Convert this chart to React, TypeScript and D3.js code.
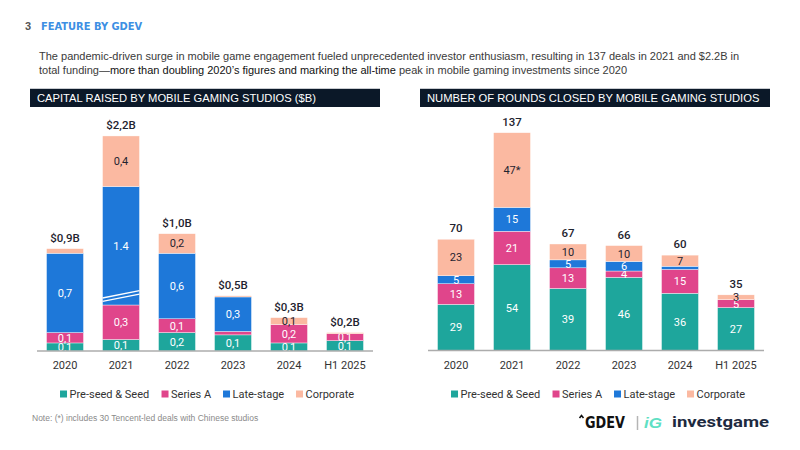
import React from 'react';
import * as d3 from 'd3';

// categories
const years = ['2020', '2021', '2022', '2023', '2024', 'H1 2025'];
const seriesNames = ['Pre-seed & Seed', 'Series A', 'Late-stage', 'Corporate'];
const seriesColors = ['#1ea69c', '#e0458b', '#1e78d9', '#fbb9a1'];

// capital raised, $B
const capitalSeed = [0.07, 0.10, 0.16, 0.14, 0.07, 0.09];
const capitalSeriesA = [0.09, 0.30, 0.12, 0.03, 0.16, 0.06];
const capitalLate = [0.69, 1.40, 0.57, 0.30, 0.00, 0.00];
const capitalCorporate = [0.04, 0.44, 0.17, 0.01, 0.06, 0.01];
// part of the bar hidden behind the axis break
const capitalCut = [0, 0.37, 0, 0, 0, 0];

// number of rounds
const roundsSeed = [29, 54, 39, 46, 36, 27];
const roundsSeriesA = [13, 21, 13, 4, 15, 5];
const roundsLate = [5, 15, 5, 6, 2, 0];
const roundsCorporate = [23, 47, 10, 10, 7, 3];
const roundsCorporateMark = ['', '*', '', '', '', ''];

const FONT = 'Roboto, sans-serif';
const ARIAL = '"Liberation Sans", Arial, sans-serif';
const INK = '#1f2430';

type PanelProps = {
  title: string;
  header: [number, number];
  axis: [number, number];
  baseline: number;
  yMax: number;
  yTop: number;
  values: number[][];
  cut?: number[];
  fmt: (v: number, s: number, i: number) => string;
  total: (v: number) => string;
  minLabel: number;
};

function Panel({ title, header, axis, baseline, yMax, yTop, values, cut, fmt, total, minLabel }: PanelProps) {
  const x = d3.scaleBand<string>().domain(years).range(axis).paddingInner(0.34).paddingOuter(0.17);
  const y = d3.scaleLinear().domain([0, yMax]).range([baseline, yTop]);

  const rows = years.map((yr, i) => {
    const r: Record<string, number> = {};
    seriesNames.forEach((s, si) => {
      r[s] = values[si][i] - (si === 2 && cut ? cut[i] : 0);
    });
    return r;
  });
  const stacked = d3.stack<Record<string, number>>().keys(seriesNames)(rows);
  const bw = x.bandwidth();

  return (
    <g>
      <line x1={header[0]} x2={header[1]} y1={88.5} y2={88.5} stroke="#c9ccd1" />
      <rect x={header[0]} y={89} width={header[1] - header[0]} height={18} fill="#0b1828" />
      <text x={header[0] + 7} y={102} fill="#fff" fontFamily={ARIAL} fontSize={11.2}>{title}</text>

      {stacked.map((layer, si) => (
        <g key={si}>
          {layer.map((d, i) => {
            const y0 = y(d[0]);
            const y1 = y(d[1]);
            const h = y0 - y1;
            if (h <= 0) return null;
            const v = values[si][i];
            const bx = x(years[i]) as number;
            return (
              <g key={i}>
                <rect x={bx} y={y1} width={bw} height={h} fill={seriesColors[si]} stroke="#fff" strokeWidth={0.4} />
                {v >= minLabel && (
                  <text x={bx + bw / 2} y={(y0 + y1) / 2 + 4} textAnchor="middle" fontFamily={FONT} fontSize={11}
                    fill={si === 3 ? INK : '#fff'}>{fmt(v, si, i)}</text>
                )}
                {si === 2 && cut && cut[i] > 0 && (
                  <g stroke="#fff" strokeWidth={1.3}>
                    <line x1={bx} x2={bx + bw} y1={y0 - 7} y2={y0 - 14.3} />
                    <line x1={bx} x2={bx + bw} y1={y0 - 3.6} y2={y0 - 10.9} />
                  </g>
                )}
              </g>
            );
          })}
        </g>
      ))}

      {years.map((yr, i) => {
        const top = stacked[3][i][1];
        const sum = d3.sum(values, (s) => s[i]);
        return (
          <text key={yr} x={(x(yr) as number) + bw / 2} y={y(top) - 7} textAnchor="middle" fontFamily={FONT}
            fontSize={11.5} fontWeight={500} fill={INK}>{total(sum)}</text>
        );
      })}

      <line x1={axis[0]} x2={axis[1]} y1={baseline} y2={baseline} stroke="#acacac" strokeWidth={1.5} />
      {years.map((yr) => (
        <text key={yr} x={(x(yr) as number) + bw / 2} y={369} textAnchor="middle" fontFamily={FONT} fontSize={11}
          fill="#333">{yr}</text>
      ))}

      <g transform={`translate(${x(years[0])! + 13.5},394)`}>
        {seriesNames.map((s, si) => {
          const off = [0, 101.5, 163, 236][si];
          return (
            <g key={s} transform={`translate(${off},0)`}>
              <rect x={0} y={-3.5} width={7} height={7} fill={seriesColors[si]} />
              <text x={9.5} y={4} fontFamily={FONT} fontSize={11} fill="#333">{s}</text>
            </g>
          );
        })}
      </g>
    </g>
  );
}

const comma = (v: number) => d3.format('.1f')(v).replace('.', ',');

export default function App() {
  return (
    <svg width={800} height={450} style={{ position: 'absolute', left: 0, top: 0, background: '#fff' }}>
      <rect width={800} height={450} fill="#fff" />
      <text x={25} y={30} fontFamily={ARIAL} fontWeight="bold" fontSize={11} fill="#555">3</text>
      <text x={41} y={30} fontFamily='"Liberation Sans Narrow", "DejaVu Sans Condensed", sans-serif' fontWeight="bold"
        fontSize={11} fill="#3d8fe3">FEATURE BY GDEV</text>

      <text x={39} y={60} fontFamily={ARIAL} fontSize={11} fill="#3a3a3a">
        The pandemic-driven surge in mobile game engagement fueled unprecedented investor enthusiasm, resulting in 137 deals in 2021 and $2.2B in
      </text>
      <text x={39} y={74} fontFamily={ARIAL} fontSize={11} fill="#3a3a3a">
        total funding—<tspan fill="#111">more than doubling 2020’s figures and marking the all-time</tspan> peak in mobile gaming investments since 2020
      </text>

      <Panel
        title="CAPITAL RAISED BY MOBILE GAMING STUDIOS ($B)"
        header={[30, 380]}
        axis={[37, 373]}
        baseline={351}
        yMax={1.9}
        yTop={351 - 1.9 * 115}
        values={[capitalSeed, capitalSeriesA, capitalLate, capitalCorporate]}
        cut={capitalCut}
        fmt={(v, si, i) => (capitalCut[i] > 0 && si === 2 ? d3.format('.1f')(v) : comma(v))}
        total={(v) => `$${comma(v)}B`}
        minLabel={0.05}
      />
      <Panel
        title="NUMBER OF ROUNDS CLOSED BY MOBILE GAMING STUDIOS"
        header={[420, 770]}
        axis={[428, 764]}
        baseline={350.5}
        yMax={137}
        yTop={132.7}
        values={[roundsSeed, roundsSeriesA, roundsLate, roundsCorporate]}
        fmt={(v, si, i) => `${v}${si === 3 ? roundsCorporateMark[i] : ''}`}
        total={(v) => `${v}`}
        minLabel={3}
      />

      <text x={32} y={421} fontFamily={ARIAL} fontSize={8.5} fill="#8a8a8a">
        Note: (*) includes 30 Tencent-led deals with Chinese studios
      </text>

      <g>
        <path d="M579.5,418 L581.5,415.5 L583.5,418" fill="none" stroke="#111" strokeWidth={1.6} />
        <text x={585} y={428} fontFamily='"Liberation Sans Narrow", "DejaVu Sans Condensed", sans-serif' fontWeight="bold"
          fontSize={15} fill="#111" textLength={40} lengthAdjust="spacingAndGlyphs">GDEV</text>
        <line x1={637.5} x2={637.5} y1={416} y2={430} stroke="#b5b5b5" strokeWidth={1.5} />
        <text x={644} y={428} fontFamily={ARIAL} fontStyle="italic" fontWeight="bold" fontSize={15} fill="#5fe0c4"
          textLength={18} lengthAdjust="spacingAndGlyphs">iG</text>
        <text x={672} y={427} fontFamily={FONT} fontWeight="bold" fontSize={15} fill="#1d2a3f" textLength={97}
          lengthAdjust="spacingAndGlyphs">investgame</text>
      </g>
    </svg>
  );
}
